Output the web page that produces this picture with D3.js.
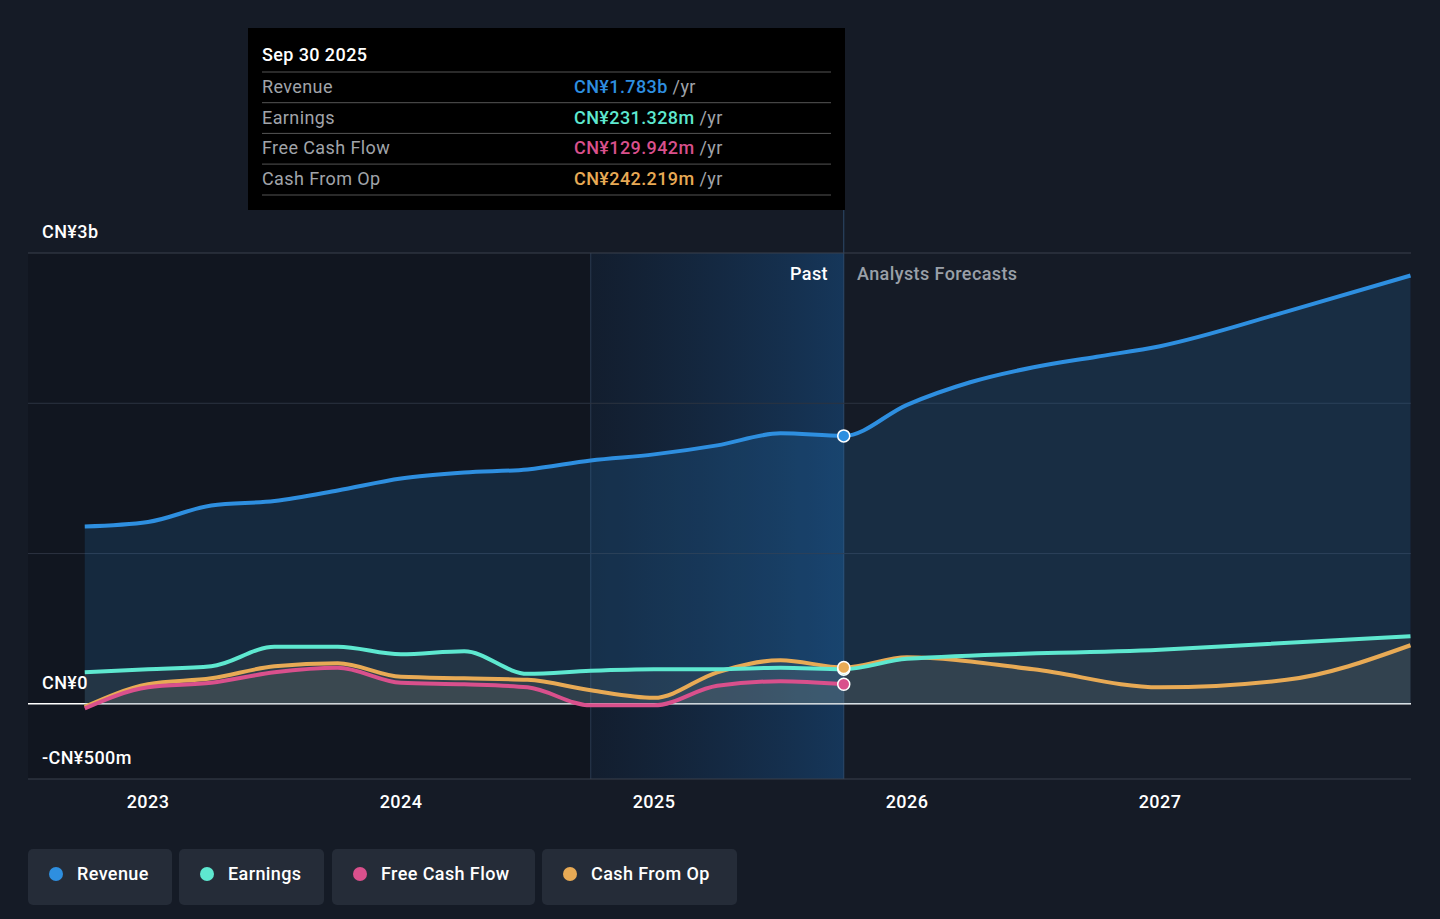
<!DOCTYPE html>
<html><head><meta charset="utf-8">
<script src="https://cdn.jsdelivr.net/npm/d3@7"></script>
<style>
body{margin:0;background:#151b26;font-family:Roboto,"Noto Sans",sans-serif;}
svg{display:block}
text{letter-spacing:0.4px}
</style></head><body>
<svg id="c" width="1440" height="919"></svg>
<script>
const revenue = [[2022.75,1.18],[2023.0,1.21],[2023.25,1.32],[2023.5,1.35],[2023.75,1.42],[2024.0,1.50],[2024.25,1.54],[2024.5,1.56],[2024.75,1.62],[2025.0,1.66],[2025.25,1.72],[2025.5,1.80],[2025.75,1.783],[2026.0,1.99],[2026.25,2.14],[2026.5,2.24],[2026.75,2.31],[2027.0,2.38],[2027.5,2.61],[2027.99,2.85]];
const earnings = [[2022.75,0.21],[2023.0,0.23],[2023.25,0.25],[2023.5,0.38],[2023.75,0.38],[2024.0,0.33],[2024.25,0.35],[2024.5,0.20],[2024.75,0.22],[2025.0,0.23],[2025.25,0.23],[2025.5,0.24],[2025.75,0.231],[2026.0,0.30],[2027.0,0.36],[2027.99,0.45]];
const fcf = [[2022.75,-0.03],[2023.0,0.11],[2023.25,0.14],[2023.5,0.21],[2023.75,0.24],[2024.0,0.14],[2024.25,0.13],[2024.5,0.11],[2024.75,-0.01],[2025.0,-0.01],[2025.25,0.12],[2025.5,0.15],[2025.75,0.13]];
const cfo = [[2022.75,-0.02],[2023.0,0.13],[2023.25,0.17],[2023.5,0.25],[2023.75,0.27],[2024.0,0.18],[2024.25,0.17],[2024.5,0.16],[2024.75,0.09],[2025.0,0.04],[2025.25,0.21],[2025.5,0.29],[2025.75,0.242],[2026.0,0.31],[2026.5,0.23],[2027.0,0.11],[2027.5,0.16],[2027.99,0.39]];
const years = [2023,2024,2025,2026,2027];
const colors = {rev:"#2e8fe0",earn:"#5ee8d0",fcf:"#d9508c",cfo:"#e8aa55"};
const nowX = 2025.75;

const svg = d3.select("#c");
const x = d3.scaleLinear().domain([2023,2027]).range([148,1160]);
const y = d3.scaleLinear().domain([-0.5,3]).range([779,253]);
const L=28,R=1411;

svg.append("rect").attr("x",L).attr("y",253).attr("width",x(nowX)-L).attr("height",526).attr("fill","#111620");
const g = svg.append("defs").append("linearGradient").attr("id","hl").attr("x1",0).attr("x2",1);
g.append("stop").attr("offset",0).attr("stop-color","#163050").attr("stop-opacity",0.3);
g.append("stop").attr("offset",1).attr("stop-color","#163a60").attr("stop-opacity",0.9);
svg.append("rect").attr("x",x(2024.75)).attr("y",253).attr("width",x(nowX)-x(2024.75)).attr("height",526).attr("fill","url(#hl)");
svg.append("line").attr("x1",x(2024.75)).attr("x2",x(2024.75)).attr("y1",253).attr("y2",779).attr("stroke","#2a3a50");
svg.append("line").attr("x1",x(nowX)).attr("x2",x(nowX)).attr("y1",210).attr("y2",779).attr("stroke","#2d4a6a");

[1,2].forEach(v=>svg.append("line").attr("x1",L).attr("x2",R).attr("y1",y(v)).attr("y2",y(v)).attr("stroke","#2c3340"));
svg.append("line").attr("x1",L).attr("x2",R).attr("y1",y(3)).attr("y2",y(3)).attr("stroke","#3a414d");
svg.append("line").attr("x1",L).attr("x2",R).attr("y1",y(0)).attr("y2",y(0)).attr("stroke","#ffffff").attr("stroke-width",1.5);
svg.append("line").attr("x1",L).attr("x2",R).attr("y1",779).attr("y2",779).attr("stroke","#3a414d");

const curve = d3.curveMonotoneX;
const line = d3.line().x(d=>x(d[0])).y(d=>y(d[1])).curve(curve);
const area = d3.area().x(d=>x(d[0])).y0(y(0)).y1(d=>y(d[1])).curve(curve);

svg.append("path").attr("d",area(revenue)).attr("fill","#2e8fe0").attr("opacity",0.16);
[cfo,fcf,earnings].forEach(s=>svg.append("path").attr("d",area(s)).attr("fill","#8a8a7a").attr("opacity",0.12));

[[cfo,colors.cfo],[fcf,colors.fcf],[earnings,colors.earn],[revenue,colors.rev]].forEach(([s,c])=>
 svg.append("path").attr("d",line(s)).attr("fill","none").attr("stroke",c).attr("stroke-width",4));

[[revenue,colors.rev],[earnings,colors.earn],[fcf,colors.fcf],[cfo,colors.cfo]].forEach(([s,c])=>{
 const p = s.find(d=>d[0]===nowX);
 svg.append("circle").attr("cx",x(p[0])).attr("cy",y(p[1])).attr("r",6).attr("fill",c).attr("stroke","#fff").attr("stroke-width",1.5);
});

const t=(tx,xx,yy,o={})=>svg.append("text").text(tx).attr("x",xx).attr("y",yy).attr("fill",o.fill||"#fff").attr("font-size",o.size||18).attr("text-anchor",o.anchor||"start").attr("font-weight",o.weight||500);
t("CN¥3b",42,238);
t("CN¥0",42,689);
t("-CN¥500m",42,764);
years.forEach(yr=>t(String(yr),x(yr),808,{anchor:"middle"}));
t("Past",828,280,{anchor:"end"});
t("Analysts Forecasts",857,280,{fill:"#9aa0a8"});

svg.append("rect").attr("x",248).attr("y",28).attr("width",597).attr("height",182).attr("fill","#000");
t("Sep 30 2025",262,61);
const rows=[["Revenue","CN¥1.783b",colors.rev],["Earnings","CN¥231.328m",colors.earn],["Free Cash Flow","CN¥129.942m",colors.fcf],["Cash From Op","CN¥242.219m",colors.cfo]];
rows.forEach((r,i)=>{
 const yy=72+i*30.7;
 svg.append("line").attr("x1",262).attr("x2",831).attr("y1",yy).attr("y2",yy).attr("stroke","#555");
 t(r[0],262,yy+21,{fill:"#a0a4aa",weight:400});
 const tx=svg.append("text").attr("x",574).attr("y",yy+21).attr("font-size",18).attr("font-weight",500);
 tx.append("tspan").text(r[1]).attr("fill",r[2]);
 tx.append("tspan").text(" /yr").attr("fill","#a0a4aa").attr("font-weight",400);
});
svg.append("line").attr("x1",262).attr("x2",831).attr("y1",195).attr("y2",195).attr("stroke","#555");

const leg=[["Revenue",colors.rev,28,144],["Earnings",colors.earn,179,145],["Free Cash Flow",colors.fcf,332,203],["Cash From Op",colors.cfo,542,195]];
leg.forEach(([n,c,lx,w])=>{
 svg.append("rect").attr("x",lx).attr("y",849).attr("width",w).attr("height",56).attr("rx",5).attr("fill","#252c38");
 svg.append("circle").attr("cx",lx+28).attr("cy",874).attr("r",7).attr("fill",c);
 t(n,lx+49,880);
});
</script></body></html>
